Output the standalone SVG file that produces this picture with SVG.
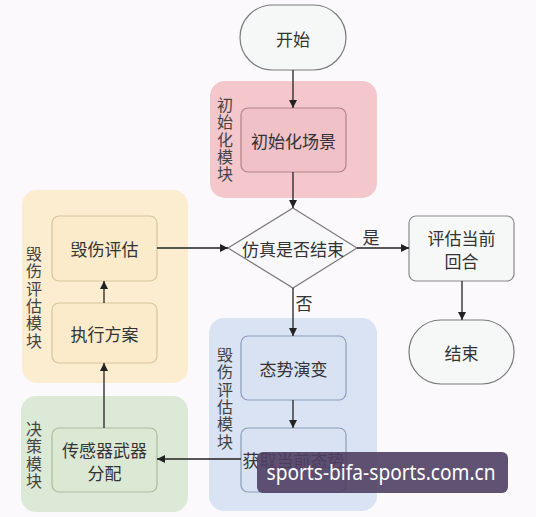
<svg xmlns="http://www.w3.org/2000/svg" width="536" height="517" viewBox="0 0 536 517">
<style>
.bg{fill:#fbf9fb}
.grp{stroke:none}
.t{font-family:"Noto Sans CJK SC","Noto Sans",sans-serif;font-size:17px;fill:#333;text-anchor:middle;dominant-baseline:central}
.vl{font-family:"Noto Sans CJK SC","Noto Sans",sans-serif;font-size:16px;fill:#444;writing-mode:vertical-rl;letter-spacing:1.3px}
.term{fill:#f6f8f7;stroke:#7a7a7a;stroke-width:1.2}
.conn{stroke:#222;stroke-width:1.3;fill:none;marker-end:url(#ah)}
</style>
<defs>
<marker id="ah" viewBox="0 0 10 10" refX="10" refY="5" markerWidth="8" markerHeight="8" markerUnits="userSpaceOnUse" orient="auto">
<path d="M0,0 L10,5 L0,10 z" fill="#222"/>
</marker>
</defs>
<rect class="bg" x="0" y="0" width="536" height="517"/>

<g id="grp-init">
<rect class="grp" x="210" y="81" width="167" height="117" rx="15" fill="#f3c7cc"/>
<text class="vl" x="225" y="97">初始化模块</text>
</g>
<g id="grp-damage">
<rect class="grp" x="22" y="190" width="166" height="193" rx="15" fill="#fcedd1"/>
<text class="vl" x="34" y="246">毁伤评估模块</text>
</g>
<g id="grp-decision">
<rect class="grp" x="21" y="396" width="167" height="116" rx="15" fill="#dde9d7"/>
<text class="vl" x="34" y="421">决策模块</text>
</g>
<g id="grp-situation">
<rect class="grp" x="209" y="318" width="168" height="193" rx="15" fill="#d9e3f3"/>
<text class="vl" x="225" y="347">毁伤评估模块</text>
</g>

<g id="start">
<rect class="term" x="240" y="5" width="106" height="65" rx="32.5"/>
<text class="t" x="293" y="38">开始</text>
</g>
<g id="init-scene">
<rect x="241" y="108" width="105" height="64" rx="7" fill="#f0c1c6" stroke="#b3838a" stroke-width="1.2"/>
<text class="t" x="293.5" y="140">初始化场景</text>
</g>
<g id="decision">
<polygon points="293,208 357,248 293,288 228,248" fill="#f8f8fa" stroke="#7a7a7a" stroke-width="1.2"/>
<text class="t" x="293" y="248">仿真是否结束</text>
</g>
<g id="eval-round">
<rect x="409" y="216" width="105" height="65" rx="7" fill="#f6f7f7" stroke="#8a8a8a" stroke-width="1.2"/>
<text class="t" x="461.5" y="237">评估当前</text>
<text class="t" x="461.5" y="260">回合</text>
</g>
<g id="end">
<rect class="term" x="409" y="320" width="105" height="64" rx="32"/>
<text class="t" x="461.5" y="352">结束</text>
</g>
<g id="damage-eval">
<rect x="52" y="216" width="105" height="65" rx="7" fill="#fbebcb" stroke="#d6c49c" stroke-width="1.2"/>
<text class="t" x="104.5" y="248">毁伤评估</text>
</g>
<g id="exec-plan">
<rect x="52" y="303" width="105" height="60" rx="7" fill="#fbebcb" stroke="#d6c49c" stroke-width="1.2"/>
<text class="t" x="104.5" y="333">执行方案</text>
</g>
<g id="sensor-alloc">
<rect x="52" y="428" width="105" height="64" rx="7" fill="#dbe8d4" stroke="#a9bca1" stroke-width="1.2"/>
<text class="t" x="104.5" y="449">传感器武器</text>
<text class="t" x="104.5" y="472">分配</text>
</g>
<g id="situation-evolve">
<rect x="241" y="336" width="105" height="64" rx="7" fill="#d8e2f3" stroke="#8c9db8" stroke-width="1.2"/>
<text class="t" x="293.5" y="368">态势演变</text>
</g>
<g id="get-situation">
<rect x="241" y="428" width="105" height="64" rx="7" fill="#d8e2f3" stroke="#8c9db8" stroke-width="1.2"/>
<text class="t" x="293.5" y="459">获取当前态势</text>
</g>

<g id="connectors">
<line class="conn" x1="293" y1="70" x2="293" y2="108"/>
<line class="conn" x1="293" y1="172" x2="293" y2="208"/>
<line class="conn" x1="357" y1="248" x2="409" y2="248"/>
<text class="t" x="371" y="236">是</text>
<line class="conn" x1="462" y1="281" x2="462" y2="320"/>
<line class="conn" x1="293" y1="288" x2="293" y2="336"/>
<text class="t" x="304" y="302">否</text>
<line class="conn" x1="293" y1="400" x2="293" y2="428"/>
<line class="conn" x1="241" y1="459" x2="157" y2="459"/>
<line class="conn" x1="104" y1="428" x2="104" y2="363"/>
<line class="conn" x1="104" y1="303" x2="104" y2="281"/>
<line class="conn" x1="157" y1="248" x2="228" y2="248"/>
</g>

<g id="watermark">
<rect x="257" y="452" width="251" height="41" rx="6" fill="#4f3f63" fill-opacity="0.9"/>
<text x="381" y="480" font-family="'Noto Sans','DejaVu Sans',sans-serif" font-size="22" fill="#ffffff" text-anchor="middle" textLength="229" lengthAdjust="spacingAndGlyphs">sports-bifa-sports.com.cn</text>
</g>
</svg>
